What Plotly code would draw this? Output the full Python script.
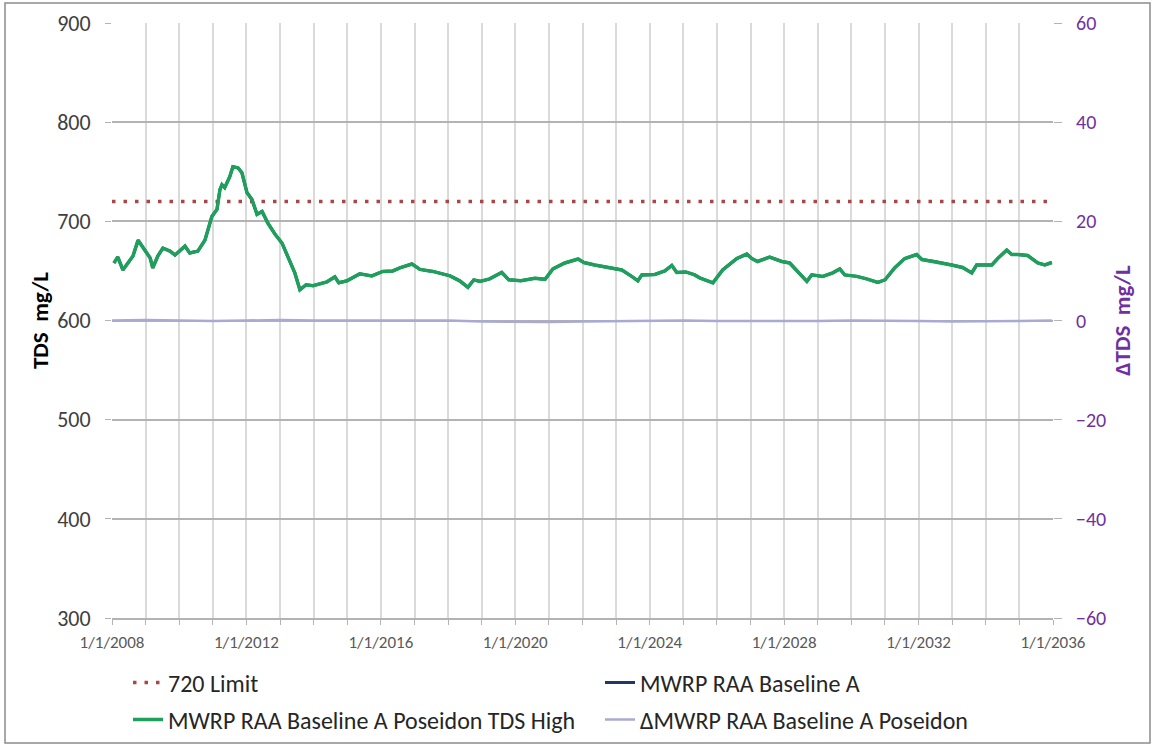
import plotly.graph_objects as go

# ---- data -------------------------------------------------------------
tds_dates = [
    "2008-01-22", "2008-03-04", "2008-04-28", "2008-06-22", "2008-08-16", "2008-10-10",
    "2008-12-25", "2009-02-19", "2009-03-19", "2009-05-13", "2009-07-07", "2009-09-22",
    "2009-11-16", "2010-03-04", "2010-04-25", "2010-07-22", "2010-10-07", "2010-12-22",
    "2011-02-15", "2011-03-19", "2011-04-10", "2011-05-10", "2011-07-04", "2011-08-07",
    "2011-10-01", "2011-11-13", "2012-01-07", "2012-03-01", "2012-04-25", "2012-06-19",
    "2012-08-22", "2012-11-07", "2013-01-22", "2013-03-25", "2013-06-10", "2013-08-04",
    "2013-10-10", "2013-12-25", "2014-05-25", "2014-08-19", "2014-10-01", "2014-12-28",
    "2015-05-16", "2015-09-25", "2016-01-22", "2016-05-10", "2016-07-25", "2016-12-04",
    "2017-03-01", "2017-07-19", "2018-01-22", "2018-05-07", "2018-08-04", "2018-10-07",
    "2018-12-13", "2019-03-28", "2019-08-07", "2019-10-22", "2020-03-01", "2020-08-01",
    "2020-11-19", "2021-02-13", "2021-06-22", "2021-11-13", "2022-01-16", "2022-05-13",
    "2022-11-16", "2023-03-04", "2023-06-19", "2023-08-25", "2023-10-07", "2024-02-26",
    "2024-06-13", "2024-08-28", "2024-10-21", "2025-01-26", "2025-05-04", "2025-06-27",
    "2025-11-18", "2026-03-04", "2026-08-04", "2026-11-21", "2027-01-15", "2027-03-18",
    "2027-07-27", "2027-12-07", "2028-03-01", "2028-05-28", "2028-09-04", "2028-10-27",
    "2029-02-23", "2029-06-12", "2029-08-28", "2029-10-21", "2030-03-01", "2030-06-15",
    "2030-10-15", "2031-01-01", "2031-04-15", "2031-08-04", "2031-12-12", "2032-02-07",
    "2032-06-23", "2032-12-26", "2033-04-23", "2033-08-01", "2033-09-23", "2034-03-07",
    "2034-05-10", "2034-08-16", "2034-10-10", "2034-12-13", "2035-04-01", "2035-07-19",
    "2035-10-04", "2035-12-19",
]

tds_poseidon_high = [
    658, 664, 651, 658, 665, 681,
    671, 663, 653, 665, 673, 670,
    666, 675, 668, 670, 681, 705,
    712, 732, 737, 734, 745, 755,
    754, 749, 729, 722, 707, 710,
    698, 687, 678, 665, 648, 631,
    636, 635, 639, 644, 638, 640,
    647, 645, 649.5, 650, 653, 657,
    651.5, 649.5, 645, 640, 633.5, 641,
    639.5, 642, 648.5, 641, 640, 642.5,
    641.5, 652, 658, 662, 658.5, 656,
    653, 651, 644.5, 640, 646, 646.5,
    650, 655.5, 648.5, 649, 646, 643,
    638, 651, 662.5, 667, 662.5, 659.5,
    664, 659.5, 658, 649.5, 639.5, 646,
    644.5, 648, 652, 646, 644.5, 642,
    638.5, 641, 653, 662.5, 666.5, 661.5,
    659.5, 656, 653.5, 648, 656, 656,
    662.5, 671, 666.5, 666.5, 665.5, 658,
    656, 658.5,
]

# baseline run sits on the same trace (difference is ~0 mg/L throughout)
tds_baseline_a = list(tds_poseidon_high)

limit_dates = ["2008-01-01", "2035-12-31"]
limit_values = [720, 720]

delta_dates = [
    "2008-01-01", "2009-01-01", "2010-01-01", "2011-01-01", "2012-01-01", "2013-01-01",
    "2014-01-01", "2015-01-01", "2016-01-01", "2017-01-01", "2018-01-01", "2019-01-01",
    "2020-01-01", "2021-01-01", "2022-01-01", "2023-01-01", "2024-01-01", "2025-01-01",
    "2026-01-01", "2027-01-01", "2028-01-01", "2029-01-01", "2030-01-01", "2031-01-01",
    "2032-01-01", "2033-01-01", "2034-01-01", "2035-01-01", "2035-12-19",
]
delta_values = [
    0.0, 0.1, 0.0, -0.1, 0.0, 0.1,
    0.0, 0.0, -0.1, 0.0, 0.0, -0.2,
    -0.3, -0.3, -0.2, -0.1, 0.0, 0.0,
    -0.1, -0.1, -0.2, -0.1, 0.0, 0.0,
    -0.1, -0.2, -0.2, -0.1, 0.0,
]

x_tick_vals = ["2008-01-01", "2012-01-01", "2016-01-01", "2020-01-01",
               "2024-01-01", "2028-01-01", "2032-01-01", "2036-01-01"]
x_tick_text = ["1/1/2008", "1/1/2012", "1/1/2016", "1/1/2020",
               "1/1/2024", "1/1/2028", "1/1/2032", "1/1/2036"]

# ---- styling ----------------------------------------------------------
FONT = "Carlito, Calibri, Liberation Sans, Arial, sans-serif"
PURPLE = "#7030A0"
GRID_H = "#B3B3B3"
GRID_V = "#DADADA"

fig = go.Figure()

fig.add_trace(go.Scatter(
    x=limit_dates, y=limit_values, mode="lines", name="720 Limit",
    line=dict(color="#A8474A", width=3.5, dash="3.5px,8px"),
    legend="legend",
))
fig.add_trace(go.Scatter(
    x=tds_dates, y=tds_baseline_a, mode="lines", name="MWRP RAA Baseline A",
    line=dict(color="#1F3864", width=3),
    legend="legend",
))
fig.add_trace(go.Scatter(
    x=tds_dates, y=tds_poseidon_high, mode="lines",
    name="MWRP RAA Baseline A Poseidon TDS High",
    line=dict(color="#1E9F5B", width=3.5),
    legend="legend2",
))
fig.add_trace(go.Scatter(
    x=delta_dates, y=delta_values, mode="lines", name="\u0394MWRP RAA Baseline A Poseidon",
    line=dict(color="#A9A9D3", width=2.5),
    yaxis="y2", legend="legend2",
))

W, H = 1154, 746
L, R, T, B = 112, 101, 23, 128
pw, ph = W - L - R, H - T - B


def px_x(x):
    return (x - L) / pw


def px_y(y):
    return (H - B - y) / ph


legend_common = dict(
    orientation="h", entrywidth=427, entrywidthmode="pixels",
    xanchor="left", yanchor="middle", bgcolor="rgba(0,0,0,0)",
    font=dict(family=FONT, size=24, color="#262626"),
    traceorder="normal",
)

fig.update_layout(
    width=W, height=H,
    margin=dict(l=L, r=R, t=T, b=B, autoexpand=False),
    paper_bgcolor="white", plot_bgcolor="white",
    font=dict(family=FONT),
    showlegend=True,
    legend=dict(x=px_x(128), y=px_y(683), **legend_common),
    legend2=dict(x=px_x(128), y=px_y(720), **legend_common),
    xaxis=dict(
        type="date",
        range=["2008-01-01", "2036-01-01"],
        tickmode="array", tickvals=x_tick_vals, ticktext=x_tick_text,
        tickfont=dict(family=FONT, size=17, color="#595959"),
        showgrid=True, gridcolor=GRID_V, gridwidth=1.5,
        ticks="outside", ticklen=5, tickcolor=GRID_H,
        ticklabelstandoff=3,
        minor=dict(tickmode="linear", tick0="2008-01-01", dtick="M12",
                   showgrid=True, gridcolor=GRID_V, gridwidth=1.5,
                   ticks="outside", ticklen=5, tickcolor=GRID_H),
        showline=True, linecolor=GRID_H, linewidth=1.5,
        zeroline=False,
    ),
    yaxis=dict(
        range=[300, 900], dtick=100,
        tickfont=dict(family=FONT, size=22, color="#404040"),
        showgrid=True, gridcolor=GRID_H, gridwidth=1.5,
        ticks="outside", ticklen=6, tickcolor=GRID_H,
        ticklabelstandoff=10,
        zeroline=False,
        title=dict(text="<b>TDS  mg/L</b>", font=dict(family=FONT, size=23, color="#000000"),
                   standoff=2),
    ),
    yaxis2=dict(
        overlaying="y", side="right",
        range=[-60, 60], dtick=20,
        tickfont=dict(family=FONT, size=20, color=PURPLE),
        showgrid=False, zeroline=False,
        ticks="outside", ticklen=8, tickcolor=GRID_H,
        ticklabelstandoff=10,
        title=dict(text="<b>\u0394TDS  mg/L</b>", font=dict(family=FONT, size=23, color=PURPLE),
                   standoff=8),
    ),
    shapes=[dict(
        type="rect", xref="paper", yref="paper",
        x0=px_x(5), x1=px_x(1150), y0=px_y(743), y1=px_y(3),
        line=dict(color="#8C8C8C", width=1.5), fillcolor="rgba(0,0,0,0)",
        layer="below",
    )],
)

fig.write_html("out.html")
